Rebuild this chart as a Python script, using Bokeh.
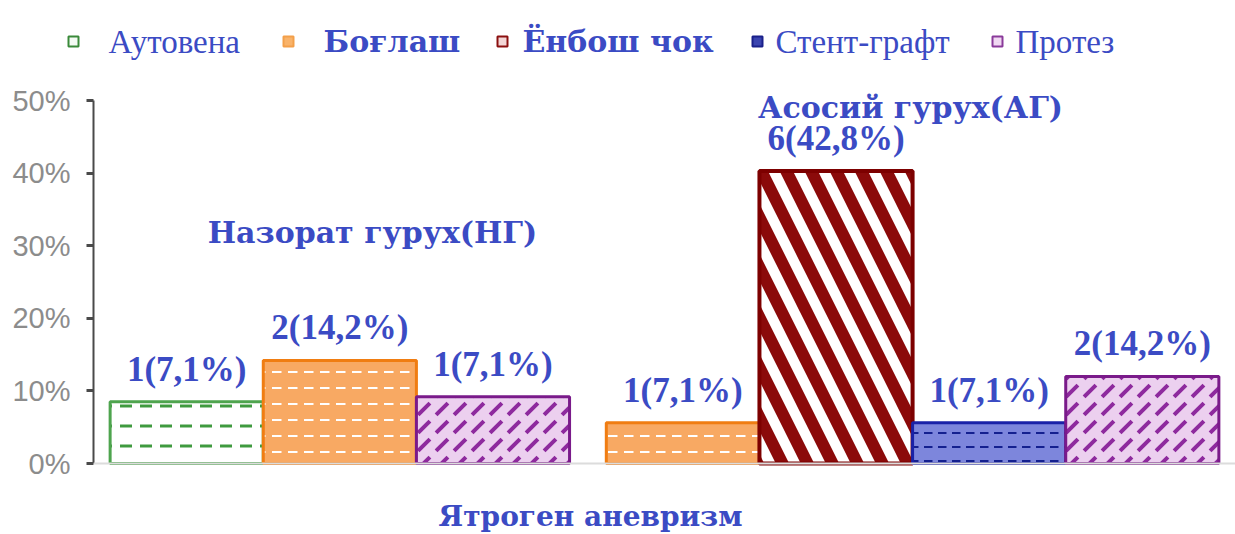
from bokeh.plotting import figure
from bokeh.models import (FactorRange, Range1d, Label, LabelSet,
                          ColumnDataSource, Span, FixedTicker)
from bokeh.core.properties import value
from bokeh.embed import file_html
from bokeh.resources import INLINE

# ---------------- data ----------------
groups = ["НГ", "АГ"]
series = ["Аутовена", "Боғлаш", "Ёнбош чок", "Стент-графт", "Протез"]
# bar heights in percent (None = no bar in that group)
values_ng = [8.5, 14.2, None, None, 9.2]
values_ag = [None, 5.6, 40.3, 5.6, 12.0]
labels_ng = ["1(7,1%)", "2(14,2%)", None, None, "1(7,1%)"]
labels_ag = [None, "1(7,1%)", "6(42,8%)", "1(7,1%)", "2(14,2%)"]
group_titles = ["Назорат гурух(НГ)", "Асосий гурух(АГ)"]
x_title = "Ятроген аневризм"
y_ticks = [0, 10, 20, 30, 40, 50]
y_tick_labels = ["0%", "10%", "20%", "30%", "40%", "50%"]

# ---------------- styles ----------------
BLUE_TXT = "#3b4bc4"
styles = {
    "Аутовена": dict(fill_color="white", hatch_pattern="horizontal_dash", hatch_color="#3f9a3f",
                     hatch_scale=20, hatch_weight=3, line_color="#4ea44e", line_width=3),
    "Боғлаш": dict(fill_color="#f8a963", hatch_pattern="horizontal_dash", hatch_color="white",
                   hatch_scale=16, hatch_weight=2, line_color="#f07d12", line_width=3),
    "Ёнбош чок": dict(fill_color="white", hatch_pattern="left_diagonal_line", hatch_color="#8b0a0a",
                      hatch_scale=50, hatch_weight=12, line_color="#7d0000", line_width=4),
    "Стент-графт": dict(fill_color="#7d86dc", hatch_pattern="horizontal_dash", hatch_color="#14208f",
                        hatch_scale=14, hatch_weight=2, line_color="#1a22a8", line_width=3),
    "Протез": dict(fill_color="#ecd0ef", hatch_pattern="right_diagonal_dash", hatch_color="#8e2a9e",
                   hatch_scale=18, hatch_weight=4, line_color="#7a1a8a", line_width=3),
}
swatch_styles = {
    "Аутовена": dict(fill_color="#f4fbf4", line_color="#3a8a3a"),
    "Боғлаш": dict(fill_color="#f9b36a", line_color="#f3a04a"),
    "Ёнбош чок": dict(fill_color="#f3d6d6", line_color="#8b1010"),
    "Стент-графт": dict(fill_color="#3a44b0", line_color="#1a208a"),
    "Протез": dict(fill_color="#f0d8f2", line_color="#8a3a9a"),
}

W = 1235
LEG_H = 75
MAIN_H = 534 - LEG_H

# ---------------- legend strip (pixel coordinates) ----------------
lf = figure(width=W, height=LEG_H, x_range=Range1d(0, W), y_range=Range1d(LEG_H, 0),
            output_backend="svg", toolbar_location=None,
            x_axis_location=None, y_axis_location=None,
            min_border_left=0, min_border_right=0, min_border_top=0, min_border_bottom=0)
lf.grid.visible = False
lf.outline_line_color = None

leg_swatch_x = [68, 283, 497, 752, 992]
leg_text_x = [108, 323, 522, 775, 1015]
leg_y = 41
leg_font = [("Liberation Serif", "normal", "33px"), ("DejaVu Serif", "bold", "30px"),
            ("DejaVu Serif", "bold", "30px"), ("Liberation Serif", "normal", "33px"),
            ("Liberation Serif", "normal", "33px")]
for s, sx, tx, (fnt, sty, sz) in zip(series, leg_swatch_x, leg_text_x, leg_font):
    lf.rect(x=[sx + 5], y=[leg_y], width=10, height=10, line_width=2, **swatch_styles[s])
    lf.text(x=[tx], y=[leg_y], text=[s], text_baseline="middle", text_align="left",
            text_font=value(fnt), text_font_style=sty, text_font_size=sz,
            text_color=BLUE_TXT)

# ---------------- main chart ----------------
factors = []
for g, vals in zip(groups, [values_ng, values_ag]):
    for s, v in zip(series, vals):
        if v is not None:
            factors.append((g, s))

x_range = FactorRange(*factors, factor_padding=0.0, group_padding=0.24, range_padding=0.03)

# frame spans the full strip height; 50% sits 25px below its top, 0% 71px above its bottom
PX_PER_PCT = 7.26
y_lo = -71 / PX_PER_PCT
y_hi = 50 + 25 / PX_PER_PCT

p = figure(width=W, height=MAIN_H, x_range=x_range, y_range=Range1d(y_lo, y_hi),
           output_backend="svg", toolbar_location=None,
           min_border_left=93, min_border_right=0, min_border_top=0, min_border_bottom=0)
p.outline_line_color = None
p.xgrid.visible = False
p.ygrid.visible = False
p.xaxis.visible = False

yax = p.yaxis[0]
yax.bounds = (0, 50)
yax.ticker = FixedTicker(ticks=y_ticks)
yax.major_label_overrides = {t: l for t, l in zip(y_ticks, y_tick_labels)}
yax.axis_line_color = "#4a4a4a"
yax.axis_line_width = 2
yax.major_tick_line_color = "#4a4a4a"
yax.major_tick_line_width = 3
yax.major_tick_out = 7
yax.major_tick_in = 0
yax.minor_tick_line_color = None
yax.major_label_text_font = "Liberation Sans"
yax.major_label_text_font_size = "29px"
yax.major_label_text_color = "#8c8c8c"
yax.major_label_standoff = 16

p.add_layout(Span(location=0, dimension="width", line_color="#dcdcdc", line_width=2))

for i, s in enumerate(series):
    xs, tops = [], []
    for g, vals in zip(groups, [values_ng, values_ag]):
        if vals[i] is not None:
            xs.append((g, s))
            tops.append(vals[i])
    src = ColumnDataSource(dict(x=xs, top=tops))
    p.vbar(x="x", top="top", width=1.0, source=src, **styles[s])

# value labels
lx, ly, lt = [], [], []
for g, vals, labs in zip(groups, [values_ng, values_ag], [labels_ng, labels_ag]):
    for s, v, t in zip(series, vals, labs):
        if v is not None:
            lx.append((g, s)); ly.append(v); lt.append(t)
lsrc = ColumnDataSource(dict(x=lx, y=ly, text=lt))
p.add_layout(LabelSet(x="x", y="y", text="text", source=lsrc, y_offset=13,
                      text_align="center", text_baseline="bottom",
                      text_font="DejaVu Serif", text_font_style="bold",
                      text_font_size="35px", text_color=BLUE_TXT))

# group titles and axis title (screen offsets from the frame's lower-left corner)
def sy(canvas_y):
    return 534 - canvas_y

for txt, cx, cy, fs in [(group_titles[0], 372, 232, "30px"),
                        (group_titles[1], 910, 107, "30px"),
                        (x_title, 590, 516, "28px")]:
    p.add_layout(Label(x=cx - 93, y=sy(cy), x_units="screen", y_units="screen", text=txt,
                       text_align="center", text_baseline="middle", text_font="DejaVu Serif",
                       text_font_style="bold", text_font_size=fs, text_color=BLUE_TXT))

# two separate roots (stacked) so the legend strip keeps its own full-width frame
open("out.html", "w").write(file_html([lf, p], INLINE))
